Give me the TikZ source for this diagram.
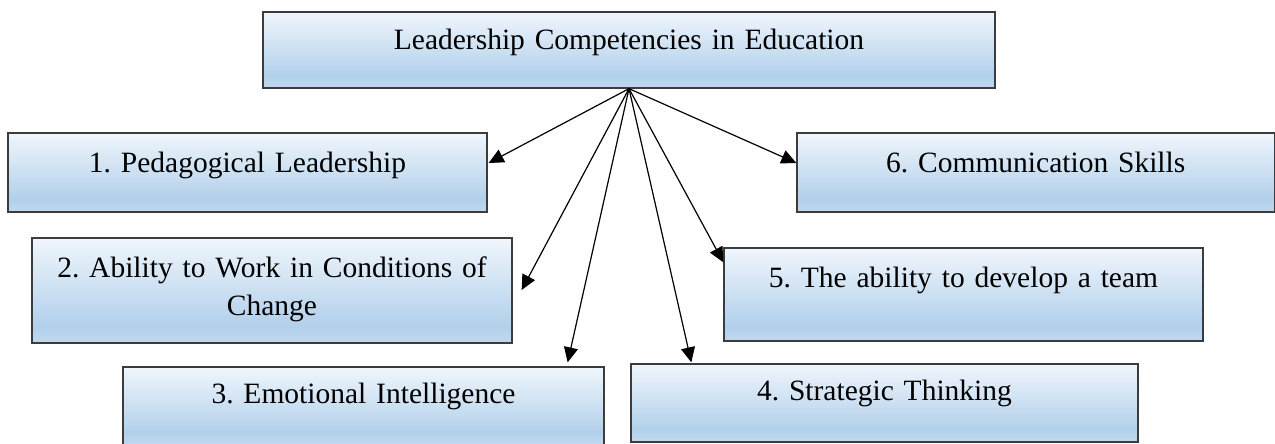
\documentclass[tikz,border=0pt]{standalone}
\usepackage{fontspec}
\setmainfont{Liberation Serif}
\usetikzlibrary{arrows.meta}
\definecolor{boxtop}{RGB}{240,246,252}
\definecolor{boxmid}{RGB}{178,208,235}
\definecolor{boxbot}{RGB}{194,217,239}
\definecolor{boxline}{RGB}{60,60,60}
\pgfdeclareverticalshading{boxshade}{100bp}{color(0bp)=(boxbot); color(25bp)=(boxbot); color(33bp)=(boxmid); color(75bp)=(boxtop); color(100bp)=(boxtop)}
\begin{document}
\begin{tikzpicture}
  [x=0.5pt,y=-0.5pt,every node/.style={draw=boxline,line width=0.65pt,shading=boxshade,inner sep=0pt,align=center,font=\fontsize{14.75}{16.5}\selectfont\frenchspacing}]
  \tikzstyle{link} = [line width=0.6pt,-{Triangle[length=7.5pt,width=7pt]}]
  \useasboundingbox (0,0) rectangle (1275,444);
  \node[text width=366pt,text height=19pt,text depth=19pt] (lead) at (629,50) {Leadership Competencies in Education};
  \node[text width=239.5pt,text height=19.5pt,text depth=20pt] (ped) at (247.5,172.5) {1. Pedagogical Leadership};
  \node[text width=238.75pt,text height=19.5pt,text depth=20pt] (comm) at (1035.75,172.5) {6. Communication Skills};
  \node[text width=240pt,text height=20pt,text depth=32.5pt,font=\fontsize{14.75}{18.5}\selectfont\frenchspacing] (chg) at (272,290.5) {2. Ability to Work in Conditions of\\Change};
  \node[text width=239.5pt,text height=19.5pt,text depth=27pt] (team) at (963.5,294.5) {5. The ability to develop a team};
  \node[text width=240.5pt,text height=18pt,text depth=21pt] (emo) at (363.5,406) {3. Emotional Intelligence};
  \node[text width=253.5pt,text height=18pt,text depth=21pt] (strat) at (884.5,403) {4. Strategic Thinking};
  \foreach \dest/\dx/\dy in {ped.east/1/-9.5,comm.west/0/-9.5,chg.east/9/-0.5,emo.north east/-37/-4,strat.north west/61/-1,team.north west/0/15}
   \draw[link] (lead.south) -- ([shift={(\dx,\dy)}]\dest);
\end{tikzpicture}
\end{document}
